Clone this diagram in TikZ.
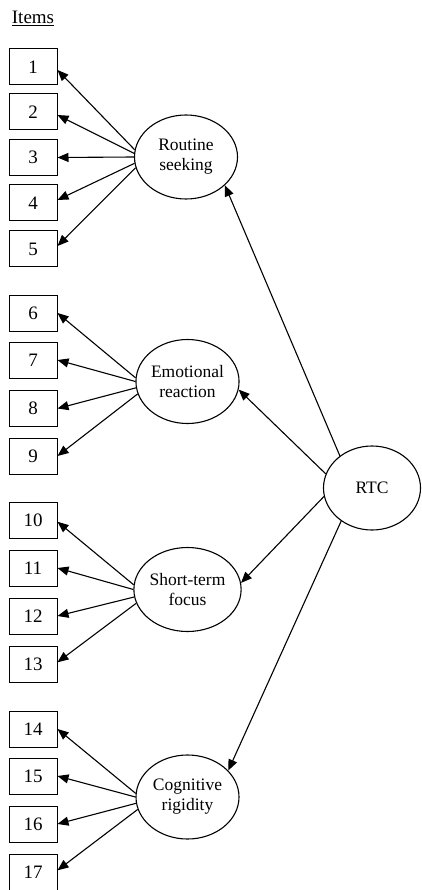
\documentclass[tikz,border=0pt]{standalone}
\usepackage{fontspec}
\setmainfont{Liberation Serif}
\usetikzlibrary{arrows.meta,shapes.geometric}
\begin{document}
\begin{tikzpicture}[x=1pt,y=-1pt,
 lbl/.style={font=\fontsize{17.5}{20}\selectfont},
 big/.style={font=\fontsize{19}{22}\selectfont},
 item/.style={draw, line width=1pt, minimum width=48pt, minimum height=36pt, inner sep=0pt, big},
 latent/.style={draw, ellipse, line width=1.1pt, minimum width=103pt, minimum height=84pt, inner sep=0pt, align=center, lbl},
 arr/.style={line width=1.1pt, -{Triangle[length=11pt,width=9pt]}}]
\useasboundingbox (0,0) rectangle (421,890);
\node[big, inner sep=0pt] (title) at (33,18) {\underline{Items}};
% items
\foreach \n/\y in {1/67,2/112,3/157.5,4/203,5/249,6/313,7/360,8/408.5,9/456,10/520,11/568,12/616,13/664,14/729,15/776,16/824,17/872}
  \node[item] (b\n) at (33,\y) {\n};
% latent factors
\node[latent] (rs) at (186,157) {Routine\\seeking};
\node[latent] (er) at (187.5,381.5) {Emotional\\reaction};
\node[latent] (sf) at (187.5,589.5) {Short-term\\focus};
\node[latent] (cr) at (187.5,797) {Cognitive\\rigidity};
\node[draw, ellipse, line width=1.1pt, minimum width=97pt, minimum height=84pt, inner sep=0pt, lbl] (rtc) at (372,488) {RTC};
% loadings
\draw[arr] (rs.172) -- (b1.-7);
\draw[arr] (rs.176) -- (b2.-7);
\draw[arr] (rs.180) -- (b3.0);
\draw[arr] (rs.187) -- (b4.7);
\draw[arr] (rs.192) -- (b5.7);
\draw[arr] (er.176) -- (b6.east);
\draw[arr] (er.180) -- (b7.east);
\draw[arr] (er.187) -- (b8.east);
\draw[arr] (er.194) -- (b9.east);
\draw[arr] (sf.175) -- (b10.-4);
\draw[arr] (sf.180) -- (b11.east);
\draw[arr] (sf.188) -- (b12.east);
\draw[arr] (sf.195) -- (b13.4);
\draw[arr] (cr.176) -- (b14.east);
\draw[arr] (cr.180) -- (b15.east);
\draw[arr] (cr.187) -- (b16.east);
\draw[arr] (cr.194) -- (b17.4);
% higher order
\draw[arr] (rtc.135) -- (rs.-36);
\draw[arr] (rtc.163) -- (er.-9);
\draw[arr] (rtc.190) -- (sf.7);
\draw[arr] (rtc.227) -- (cr.33);
\end{tikzpicture}
\end{document}
